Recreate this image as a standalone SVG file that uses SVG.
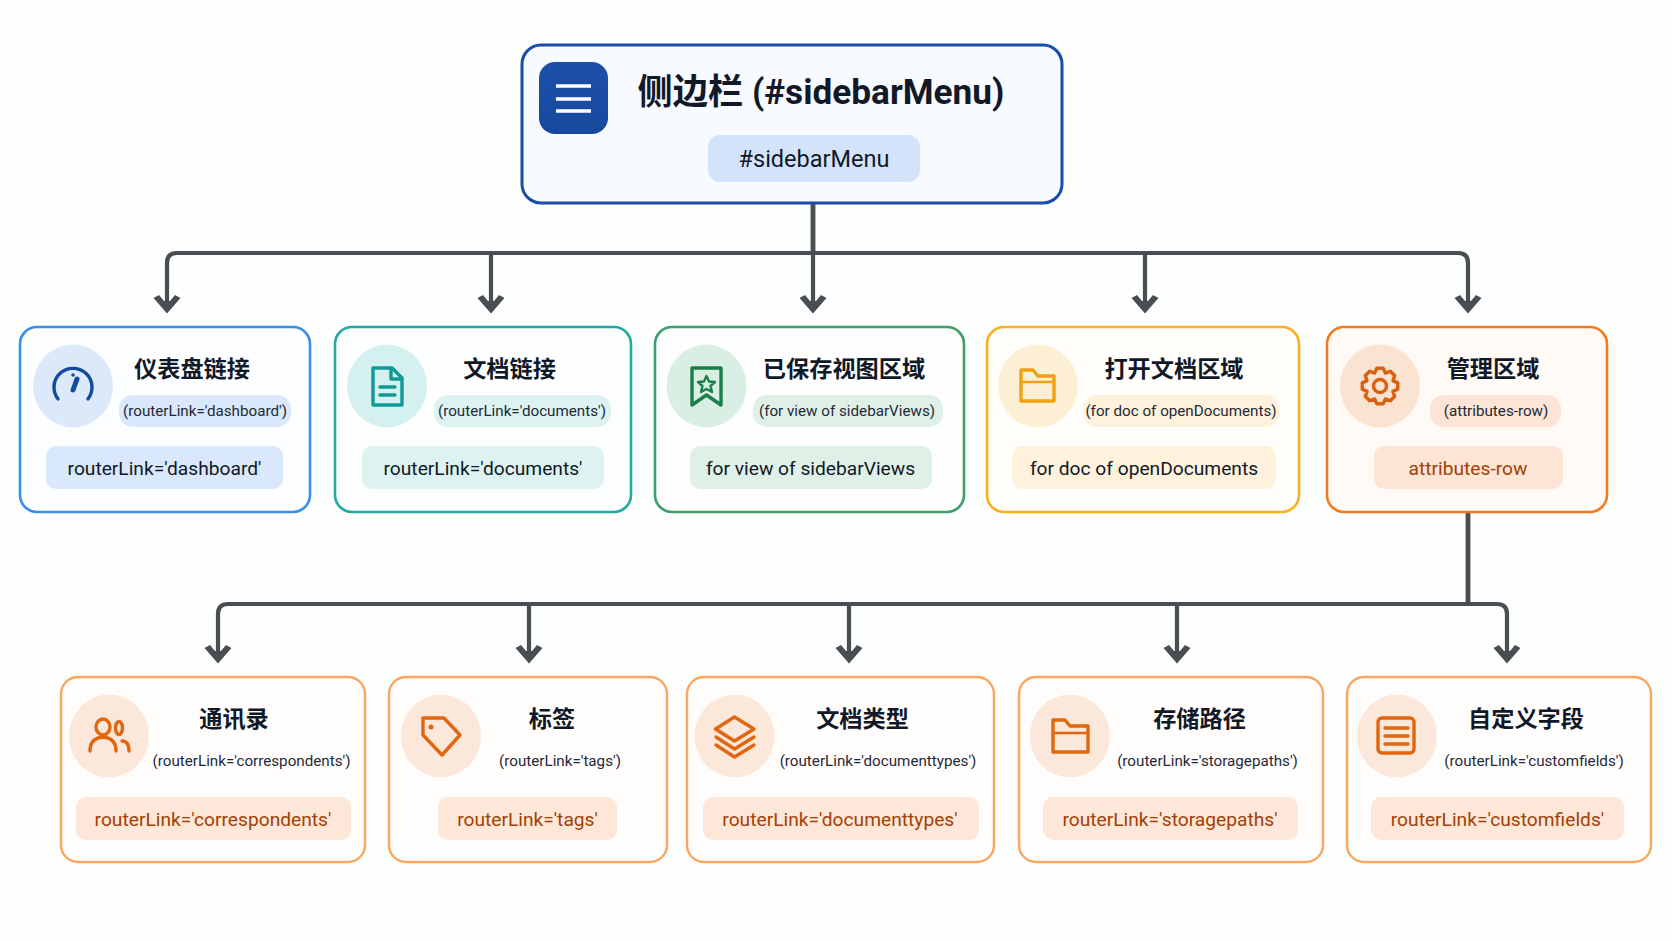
<svg xmlns="http://www.w3.org/2000/svg" width="1672" height="941" viewBox="0 0 1672 941">
<style>
text{font-family:"Roboto","Noto Sans CJK SC",sans-serif;text-anchor:middle;fill:#111827}
.t{font-size:23.2px;font-weight:700}
.s{font-size:15.2px;fill:#1f2937}
.b{font-size:19.2px}
.card{stroke-width:2.6}
.blue .card{fill:#fdfeff;stroke:#3b8fe8}.blue .pill{fill:#d9e8fb}.blue .ic{stroke:#124a9e}.blue .cc{fill:#dbe9fb}
.teal .card{fill:#fdfefe;stroke:#22aaa5}.teal .pill{fill:#dcf3f1}.teal .ic{stroke:#109a96}.teal .cc{fill:#d5f1ef}
.green .card{fill:#fdfefd;stroke:#3f9e6b}.green .pill{fill:#dff1e7}.green .ic{stroke:#1b7f4b}.green .cc{fill:#d9efe3}
.amber .card{fill:#fffefb;stroke:#fbb01f}.amber .pill{fill:#fef2dc}.amber .ic{stroke:#f0a010}.amber .cc{fill:#fdefd4}
.orange .card{fill:#fffaf6;stroke:#f47b20}.orange .pill{fill:#fce5d5}.orange .ic{stroke:#d9600f}.orange .cc{fill:#fbe3d2}.orange .b{fill:#a33f06}
.sub .card{fill:#fffdfc;stroke:#f9a65f;stroke-width:2.4}.sub .pill{fill:#fce7d8}.sub .ic{stroke:#e0660f}.sub .cc{fill:#fce8da}.sub .b{fill:#a33f06}
.ic{fill:none;stroke-width:3.4;stroke-linecap:round;stroke-linejoin:round}
.ic.w5{stroke-width:5}.ic.w2{stroke-width:2.4}
.conn{fill:none;stroke:#4a4d52;stroke-width:4.2;marker-end:url(#arrow)}
</style>
<defs>
<marker id="arrow" markerUnits="userSpaceOnUse" viewBox="0 0 20 28" refX="12" refY="14" markerWidth="20" markerHeight="28" orient="auto"><path d="M18.5 14 L3 27.500 L0 22 L6 17 V11 L0 6 L3 0.500 Z" fill="#4a4d52"/></marker>
<linearGradient id="menu" x1="0" y1="0" x2="0" y2="1"><stop offset="0" stop-color="#1c4fa8"/><stop offset="1" stop-color="#174a9e"/></linearGradient>
</defs>
<rect width="1672" height="941" fill="#fdfefe"/>
<g id="connectors">
<path class="conn" d="M813 204V253H177Q167 253 167 263V307"/>
<path class="conn" d="M813 204V253H491V307"/>
<path class="conn" d="M813 204V307"/>
<path class="conn" d="M813 204V253H1145V307"/>
<path class="conn" d="M813 204V253H1458Q1468 253 1468 263V307"/>
<path class="conn" d="M1468 512V604H228Q218 604 218 614V657"/>
<path class="conn" d="M1468 512V604H529V657"/>
<path class="conn" d="M1468 512V604H849V657"/>
<path class="conn" d="M1468 512V604H1177V657"/>
<path class="conn" d="M1468 512V604H1497Q1507 604 1507 614V657"/>
</g>
<g id="root">
<rect x="522" y="45" width="540" height="158" rx="19" fill="#f7fafe" stroke="#1a4da8" stroke-width="3"/>
<rect x="539" y="62" width="69" height="72" rx="16" fill="url(#menu)"/>
<path d="M556 86H591M556 99H591M556 111H591" stroke="#fff" stroke-width="3.6" fill="none"/>
<text x="821" y="104" style="font-size:35.2px;font-weight:700">侧边栏 (#sidebarMenu)</text>
<rect x="708" y="135" width="212" height="47" rx="12" fill="#d3e4fa"/>
<text x="814" y="167" style="font-size:23.5px">#sidebarMenu</text>
</g>
<g id="dashboard" class="blue">
<rect class="card" x="20" y="327" width="290" height="185" rx="17"/>
<ellipse class="cc" cx="73" cy="386" rx="40" ry="41.5"/>
<path class="ic" d="M58 399A19 19 0 1 1 88 399"/><path class="ic w5" d="M73 390L77 379"/><circle cx="73" cy="375" r="1.800" fill="#124a9e"/>
<text class="t" x="192" y="377">仪表盘链接</text>
<rect class="pill" x="119" y="395" width="172" height="32" rx="14"/>
<text class="s" x="205" y="416">(routerLink='dashboard')</text>
<rect class="pill" x="46" y="446" width="237" height="43" rx="10"/>
<text class="b" x="164.500" y="474.500">routerLink='dashboard'</text>
</g>
<g id="documents" class="teal">
<rect class="card" x="335" y="327" width="296" height="185" rx="17"/>
<ellipse class="cc" cx="387" cy="386" rx="40" ry="41.5"/>
<path class="ic" d="M373 368H392L402 378V405H373Z"/><path class="ic" d="M391 368V379H402M380 387H395M380 395H395"/>
<text class="t" x="509.500" y="377">文档链接</text>
<rect class="pill" x="434" y="395" width="177" height="32" rx="14"/>
<text class="s" x="522" y="416">(routerLink='documents')</text>
<rect class="pill" x="362" y="446" width="242" height="43" rx="10"/>
<text class="b" x="483" y="474.500">routerLink='documents'</text>
</g>
<g id="savedviews" class="green">
<rect class="card" x="655" y="327" width="309" height="185" rx="17"/>
<ellipse class="cc" cx="706.500" cy="386" rx="40" ry="41.500"/>
<path class="ic" d="M692 368H721V405L706.500 395L692 405Z"/>
<path class="ic w2" d="M706.500 376L709 381.500L715 382L710.500 386L712 392L706.500 389L701 392L702.500 386L698 382L704 381.500Z"/>
<text class="t" x="844" y="377">已保存视图区域</text>
<rect class="pill" x="753" y="395" width="190" height="32" rx="14"/>
<text class="s" x="847" y="416">(for view of sidebarViews)</text>
<rect class="pill" x="690" y="446" width="242" height="43" rx="10"/>
<text class="b" x="810.500" y="474.500">for view of sidebarViews</text>
</g>
<g id="opendocs" class="amber">
<rect class="card" x="987" y="327" width="312" height="185" rx="17"/>
<ellipse class="cc" cx="1038" cy="386" rx="40" ry="41.500"/>
<path class="ic" d="M1021 401V370H1033L1038 376H1054V401Z"/><path class="ic w2" d="M1021 382H1054"/>
<text class="t" x="1174" y="377">打开文档区域</text>
<rect class="pill" x="1083" y="395" width="197" height="32" rx="14"/>
<text class="s" x="1181" y="416">(for doc of openDocuments)</text>
<rect class="pill" x="1012" y="446" width="264" height="43" rx="10"/>
<text class="b" x="1144" y="474.500">for doc of openDocuments</text>
</g>
<g id="admin" class="orange">
<rect class="card" x="1327" y="327" width="280" height="185" rx="17"/>
<ellipse class="cc" cx="1380" cy="386" rx="40" ry="41.500"/>
<g transform="translate(1380 386)"><path class="ic" d="M17.730 -3.130L17.730 3.130L12.930 5.360L14.740 10.320L10.320 14.740L5.360 12.930L3.130 17.730L-3.130 17.730L-5.360 12.930L-10.320 14.740L-14.740 10.320L-12.930 5.360L-17.730 3.130L-17.730 -3.130L-12.930 -5.360L-14.740 -10.320L-10.320 -14.740L-5.360 -12.930L-3.130 -17.730L3.130 -17.730L5.360 -12.930L10.320 -14.740L14.740 -10.320L12.930 -5.360Z"/><circle class="ic" r="6.500"/></g>
<text class="t" x="1493" y="377">管理区域</text>
<rect class="pill" x="1430" y="395" width="131" height="32" rx="14"/>
<text class="s" x="1496" y="416">(attributes-row)</text>
<rect class="pill" x="1374" y="446" width="189" height="43" rx="10"/>
<text class="b" x="1468" y="474.500">attributes-row</text>
</g>
<g id="correspondents" class="sub">
<rect class="card" x="61" y="677" width="304" height="185" rx="17"/>
<ellipse class="cc" cx="109" cy="736" rx="40" ry="41.500"/>
<ellipse class="ic" cx="103" cy="727" rx="7" ry="8"/><path class="ic" d="M90 751Q90 738 103 737Q116 738 116 751"/><ellipse class="ic" cx="119" cy="728" rx="3.500" ry="6.500"/><path class="ic" d="M122 741Q129 741 129 751"/>
<text class="t" x="234" y="727">通讯录</text>
<text class="s" x="251.500" y="766">(routerLink='correspondents')</text>
<rect class="pill" x="76" y="797" width="275" height="43" rx="10"/>
<text class="b" x="213" y="825.500">routerLink='correspondents'</text>
</g>
<g id="tags" class="sub">
<rect class="card" x="389" y="677" width="278" height="185" rx="17"/>
<ellipse class="cc" cx="441" cy="736" rx="40" ry="41.500"/>
<path class="ic" d="M423 718H444L460 735L442 755L423 735Z"/><circle cx="431" cy="727" r="2.500" fill="#e0660f"/>
<text class="t" x="552" y="727">标签</text>
<text class="s" x="560" y="766">(routerLink='tags')</text>
<rect class="pill" x="438" y="797" width="179" height="43" rx="10"/>
<text class="b" x="527.500" y="825.500">routerLink='tags'</text>
</g>
<g id="documenttypes" class="sub">
<rect class="card" x="687" y="677" width="307" height="185" rx="17"/>
<ellipse class="cc" cx="734.500" cy="736" rx="40" ry="41.500"/>
<path class="ic" d="M734.500 717L754 729L734.500 741L715.500 729ZM716 737L734.500 749L754 737M716 745L734.500 757L754 745"/>
<text class="t" x="862.500" y="727">文档类型</text>
<text class="s" x="878" y="766">(routerLink='documenttypes')</text>
<rect class="pill" x="703" y="797" width="276" height="43" rx="10"/>
<text class="b" x="840" y="825.500">routerLink='documenttypes'</text>
</g>
<g id="storagepaths" class="sub">
<rect class="card" x="1019" y="677" width="304" height="185" rx="17"/>
<ellipse class="cc" cx="1070" cy="736" rx="40" ry="41.500"/>
<path class="ic" d="M1053 752V720H1065L1070 726H1088V752Z"/><path class="ic w2" d="M1053 733H1088"/>
<text class="t" x="1199.500" y="727">存储路径</text>
<text class="s" x="1207.500" y="766">(routerLink='storagepaths')</text>
<rect class="pill" x="1043" y="797" width="255" height="43" rx="10"/>
<text class="b" x="1170" y="825.500">routerLink='storagepaths'</text>
</g>
<g id="customfields" class="sub">
<rect class="card" x="1347" y="677" width="304" height="185" rx="17"/>
<ellipse class="cc" cx="1397" cy="736" rx="40" ry="41.500"/>
<rect class="ic" x="1378" y="718" width="36" height="35" rx="4"/><path class="ic" d="M1385 728H1408M1385 736H1408M1385 744H1408"/>
<text class="t" x="1526" y="727">自定义字段</text>
<text class="s" x="1534" y="766">(routerLink='customfields')</text>
<rect class="pill" x="1371" y="797" width="253" height="43" rx="10"/>
<text class="b" x="1497.500" y="825.500">routerLink='customfields'</text>
</g>
</svg>
